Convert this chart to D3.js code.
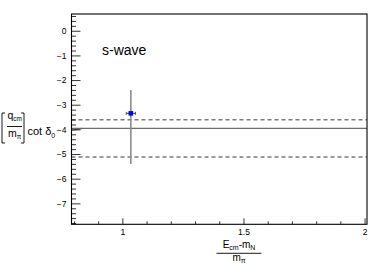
<!DOCTYPE html>
<html><head><meta charset="utf-8">
<script src="https://cdn.jsdelivr.net/npm/d3@7"></script>
<style>body{margin:0;background:#fff}svg{display:block;font-family:"Liberation Sans",Arial,sans-serif}</style>
</head><body><svg id="c" width="390" height="265"></svg>
<script>
// data
const xDomain = [0.79, 2.01];
const yDomain = [-7.85, 0.68];
const xTickValues = [1, 1.5, 2];
const xTickLabels = ["1", "1.5", "2"];
const yTickValues = [0, -1, -2, -3, -4, -5, -6, -7];
const yTickLabels = ["0", "\u22121", "\u22122", "\u22123", "\u22124", "\u22125", "\u22126", "\u22127"];
const pointX = [1.035];
const pointY = [-3.35];
const pointErrXLow = [0.019], pointErrXHigh = [0.019];
const pointErrYLow = [2.05], pointErrYHigh = [0.95];
const centralValue = -3.96;
const bandUpper = -3.61;
const bandLower = -5.12;
const curveX = [0.79, 0.8, 0.82, 0.835];
const curveY = [-4.03, -4.02, -3.99, -3.96];

const svg = d3.select("#c");
const L = 71.5, R = 367, T = 14, B = 224.3;
const x = d3.scaleLinear().domain(xDomain).range([L, R]);
const y = d3.scaleLinear().domain(yDomain).range([B, T]);

// horizontal lines
const hl = svg.append("g");
[bandUpper, bandLower].forEach(v => {
  hl.append("line").attr("x1", x(xDomain[0])).attr("x2", x(xDomain[1]))
    .attr("y1", y(v)).attr("y2", y(v))
    .attr("stroke", "#7a7a7a").attr("stroke-width", 1.3).attr("stroke-dasharray", "4,3");
});
hl.append("line").attr("x1", x(xDomain[0])).attr("x2", x(xDomain[1]))
  .attr("y1", y(centralValue)).attr("y2", y(centralValue))
  .attr("stroke", "#6e6e6e").attr("stroke-width", 1.4);
hl.append("path").datum(curveX.map((d, i) => [d, curveY[i]]))
  .attr("d", d3.line().x(d => x(d[0])).y(d => y(d[1])))
  .attr("fill", "none").attr("stroke", "#6e6e6e").attr("stroke-width", 1.4);

// error bars + point
const pg = svg.append("g");
pointX.forEach((px, i) => {
  pg.append("line").attr("x1", x(px)).attr("x2", x(px))
    .attr("y1", y(pointY[i] + pointErrYHigh[i])).attr("y2", y(pointY[i] - pointErrYLow[i]))
    .attr("stroke", "#8c8c8c").attr("stroke-width", 1.6);
  pg.append("line").attr("x1", x(px - pointErrXLow[i])).attr("x2", x(px + pointErrXHigh[i]))
    .attr("y1", y(pointY[i])).attr("y2", y(pointY[i]))
    .attr("stroke", "#555").attr("stroke-width", 1.2);
  [px - pointErrXLow[i], px + pointErrXHigh[i]].forEach(e => {
    pg.append("line").attr("x1", x(e)).attr("x2", x(e))
      .attr("y1", y(pointY[i]) - 1.5).attr("y2", y(pointY[i]) + 1.5)
      .attr("stroke", "#555").attr("stroke-width", 1);
  });
  pg.append("rect").attr("x", x(px) - 2.3).attr("y", y(pointY[i]) - 2.3)
    .attr("width", 4.6).attr("height", 4.6).attr("fill", "#0000ff");
});

// axes
const xMinor = d3.range(8, 21).map(d => d / 10).filter(v => v >= xDomain[0] && v <= xDomain[1] && !xTickValues.includes(v));
const yMinor = d3.range(-39, 4).map(d => d / 5).filter(v => v >= yDomain[0] && v <= yDomain[1] && !yTickValues.includes(v));

const xAxis = d3.axisBottom(x).tickValues(xTickValues).tickSizeInner(-6).tickSizeOuter(0).tickPadding(4)
  .tickFormat((d, i) => xTickLabels[i]);
const gx = svg.append("g").attr("transform", `translate(0,${B})`).call(xAxis);
gx.select(".domain").remove();
gx.selectAll("line").attr("stroke", "#000").attr("stroke-width", 0.8);
gx.selectAll("text").attr("font-size", 8.5).attr("fill", "#000").attr("dy", "0.71em").attr("y", 5);
const xAxisMinor = d3.axisBottom(x).tickValues(xMinor).tickSizeInner(-3).tickSizeOuter(0).tickFormat("");
const gxm = svg.append("g").attr("transform", `translate(0,${B})`).call(xAxisMinor);
gxm.select(".domain").remove();
gxm.selectAll("line").attr("stroke", "#000").attr("stroke-width", 0.8);

const yAxis = d3.axisLeft(y).tickValues(yTickValues).tickSizeInner(-9).tickSizeOuter(0).tickPadding(5)
  .tickFormat((d, i) => yTickLabels[i]);
const gy = svg.append("g").attr("transform", `translate(${L},0)`).call(yAxis);
gy.select(".domain").remove();
gy.selectAll("line").attr("stroke", "#000").attr("stroke-width", 0.8);
gy.selectAll("text").attr("font-size", 8.5).attr("fill", "#000").attr("x", -5);
const yAxisMinor = d3.axisLeft(y).tickValues(yMinor).tickSizeInner(-4.5).tickSizeOuter(0).tickFormat("");
const gym = svg.append("g").attr("transform", `translate(${L},0)`).call(yAxisMinor);
gym.select(".domain").remove();
gym.selectAll("line").attr("stroke", "#000").attr("stroke-width", 0.8);

// frame
svg.append("rect").attr("x", L).attr("y", T).attr("width", R - L).attr("height", B - T)
  .attr("fill", "none").attr("stroke", "#000").attr("stroke-width", 1.1);

// s-wave label
svg.append("text").attr("x", 102).attr("y", 54.5).attr("font-size", 14).text("s-wave");

// x title
const xt = svg.append("g");
const num = xt.append("text").attr("x", 239).attr("y", 247.5).attr("font-size", 10).attr("text-anchor", "middle");
num.append("tspan").text("E");
num.append("tspan").attr("font-size", 7).attr("dy", 2).text("cm");
num.append("tspan").attr("dy", -2).text("-m");
num.append("tspan").attr("font-size", 7).attr("dy", 2).text("N");
xt.append("line").attr("x1", 216.5).attr("x2", 261.5).attr("y1", 253.3).attr("y2", 253.3)
  .attr("stroke", "#000").attr("stroke-width", 0.9);
const den = xt.append("text").attr("x", 239).attr("y", 261).attr("font-size", 10).attr("text-anchor", "middle");
den.append("tspan").text("m");
den.append("tspan").attr("font-size", 7).attr("dy", 2).text("\u03c0");

// y title
const yt = svg.append("g");
yt.append("path").attr("d", "M5,113 L2,113 L2,143 L5,143").attr("fill", "none").attr("stroke", "#000").attr("stroke-width", 0.9);
yt.append("path").attr("d", "M21,113 L24,113 L24,143 L21,143").attr("fill", "none").attr("stroke", "#000").attr("stroke-width", 0.9);
const qn = yt.append("text").attr("x", 7.5).attr("y", 118.5).attr("font-size", 10.5);
qn.append("tspan").text("q");
qn.append("tspan").attr("font-size", 6.5).attr("dy", 2).text("cm");
yt.append("line").attr("x1", 7).attr("x2", 22).attr("y1", 126.5).attr("y2", 126.5).attr("stroke", "#000").attr("stroke-width", 0.9);
const md = yt.append("text").attr("x", 8).attr("y", 137).attr("font-size", 10.5);
md.append("tspan").text("m");
md.append("tspan").attr("font-size", 6.5).attr("dy", 2).text("\u03c0");
const cot = yt.append("text").attr("x", 27.5).attr("y", 135).attr("font-size", 11);
cot.append("tspan").text("cot \u03b4");
cot.append("tspan").attr("font-size", 7).attr("dy", 3).text("0");
</script></body></html>
